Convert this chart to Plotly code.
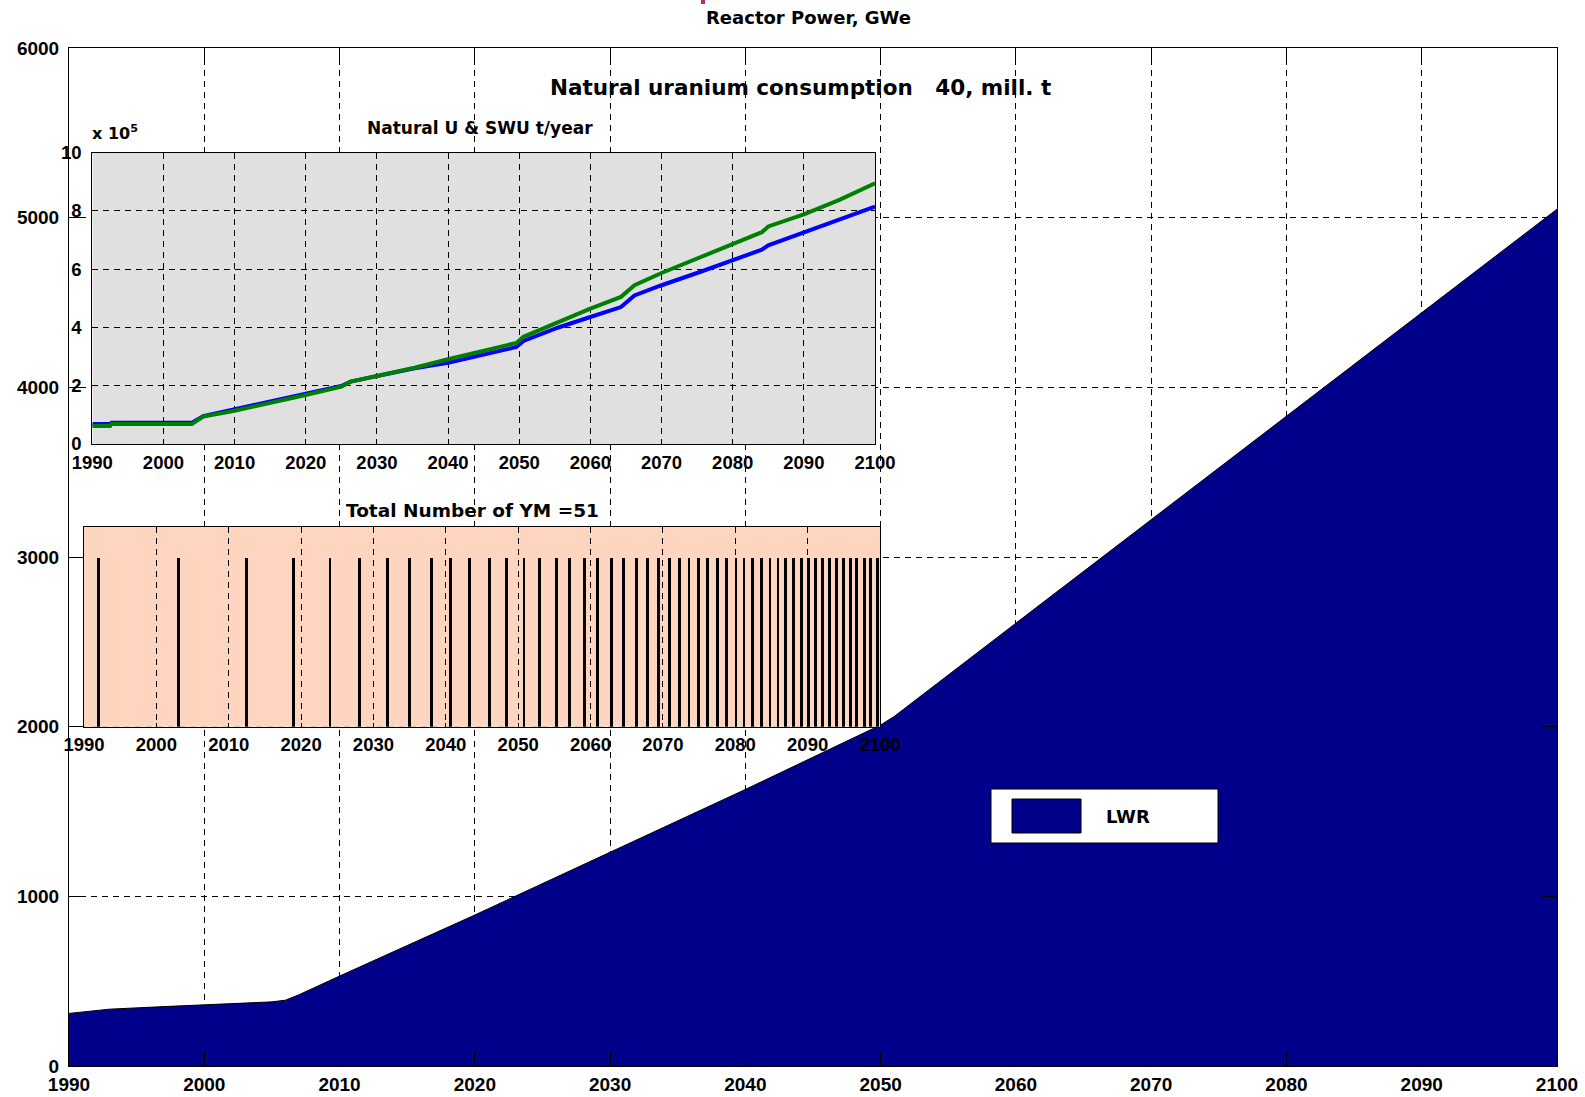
import plotly.graph_objects as go

# ---------------- data ----------------
# Main area: LWR reactor power, GWe
lwr_years = [1990, 1993, 1997, 2000, 2003, 2005, 2006, 2007, 2010, 2020, 2030, 2040,
             2050, 2051, 2060, 2070, 2080, 2090, 2100]
lwr_gwe = [310, 335, 350, 362, 370, 378, 388, 420, 530, 890, 1260, 1630,
           2010, 2060, 2610, 3220, 3830, 4440, 5050]

# Inset 1: Natural U & SWU, t/year
u_years = [1990, 1992.5, 1992.7, 2004, 2005.6, 2010, 2020, 2025, 2026.3, 2030, 2035.3,
           2040, 2045, 2049.6, 2050.6, 2055.5, 2060, 2064.3, 2066.2, 2070, 2075, 2080,
           2084.1, 2085, 2090, 2095, 2100]
nat_u = [69000, 69000, 73000, 73000, 96000, 119000, 174000, 199000, 214000, 233000, 260000,
         279000, 306000, 333000, 354000, 400000, 436000, 470000, 510000, 545000, 587000, 630000,
         667000, 682000, 727000, 773000, 815000]
swu = [62000, 62000, 69000, 69000, 94000, 114000, 168000, 197000, 214000, 233000, 262000,
       291000, 320000, 347000, 368000, 419000, 465000, 505000, 545000, 587000, 636000, 684000,
       727000, 747000, 788000, 838000, 895000]

# Inset 2: years of YM (total 51)
ym_years = [1992.0, 2003.0, 2012.5, 2019.0, 2024.0, 2028.1, 2032.0, 2035.0, 2038.0, 2040.6,
            2043.3, 2046.0, 2048.4, 2050.8, 2053.0, 2055.3, 2057.1, 2059.2, 2060.9, 2062.9,
            2064.6, 2066.3, 2067.9, 2069.4, 2070.9, 2072.3, 2073.6, 2074.9, 2076.2, 2077.6,
            2078.8, 2080.1, 2081.2, 2082.4, 2083.6, 2084.8, 2085.9, 2087.0, 2088.0, 2089.1,
            2090.1, 2091.1, 2092.1, 2093.0, 2094.0, 2094.9, 2095.9, 2096.8, 2097.8, 2098.7,
            2099.6]
ym_count = [1, 1, 1, 1, 1, 1, 1, 1, 1, 1, 1, 1, 1, 1, 1, 1, 1, 1, 1, 1, 1, 1, 1, 1, 1, 1,
            1, 1, 1, 1, 1, 1, 1, 1, 1, 1, 1, 1, 1, 1, 1, 1, 1, 1, 1, 1, 1, 1, 1, 1, 1]

year_ticks = [1990, 2000, 2010, 2020, 2030, 2040, 2050, 2060, 2070, 2080, 2090, 2100]
power_ticks = [0, 1000, 2000, 3000, 4000, 5000, 6000]
u_ticks = [0, 200000, 400000, 600000, 800000, 1000000]
u_tick_text = ["0", "2", "4", "6", "8", "10"]

# ---------------- layout helpers ----------------
W, H = 1585, 1097
L, R, T, B = 69, 28, 48, 31
PW, PH = W - L - R, H - T - B


def px(x):
    return (x - L) / PW


def py(y):
    return (H - B - y) / PH


MAIN_TICK_FONT = dict(family="Liberation Sans, Arial, sans-serif", size=19, color="black", weight="bold")
TICK_FONT = dict(family="Liberation Sans, Arial, sans-serif", size=18.5, color="black", weight="bold")
TITLE_FONT = "DejaVu Sans, Verdana, sans-serif"
GRID = dict(showgrid=True, gridcolor="black", gridwidth=1, griddash="6px,5px")

fig = go.Figure()

fig.add_trace(go.Scatter(x=lwr_years, y=lwr_gwe, mode="lines", fill="tozeroy",
                         fillcolor="#00008B", line=dict(color="black", width=1),
                         name="LWR", xaxis="x", yaxis="y", hoverinfo="skip"))

fig.add_trace(go.Scatter(x=u_years, y=nat_u, mode="lines", line=dict(color="#0000FF", width=4),
                         name="Natural U", xaxis="x2", yaxis="y2"))
fig.add_trace(go.Scatter(x=u_years, y=swu, mode="lines", line=dict(color="#008000", width=4),
                         name="SWU", xaxis="x2", yaxis="y2"))

fig.add_trace(go.Bar(x=ym_years, y=ym_count, width=0.4, marker=dict(color="black", line=dict(width=0)),
                     name="YM", xaxis="x3", yaxis="y3"))

axis_common = dict(showline=True, linecolor="black", linewidth=1, mirror="ticks",
                   ticks="inside", tickcolor="black", zeroline=False, automargin=False)

fig.update_layout(
    width=W, height=H, margin=dict(l=L, r=R, t=T, b=B, autoexpand=False),
    paper_bgcolor="white", plot_bgcolor="white", showlegend=False,
    bargap=0,
    xaxis=dict(domain=[0, 1], range=[1990, 2100], tickvals=year_ticks, ticklen=15,
               tickfont=MAIN_TICK_FONT, ticklabelstandoff=1, anchor="y", **GRID, **axis_common),
    yaxis=dict(domain=[0, 1], range=[0, 6000], tickvals=power_ticks, ticklen=15,
               tickfont=MAIN_TICK_FONT, ticklabelstandoff=5, anchor="x", **GRID, **axis_common),
    xaxis2=dict(domain=[px(92.3), px(875)], range=[1990, 2100], tickvals=year_ticks, ticklen=4,
                tickfont=TICK_FONT, ticklabelstandoff=2, anchor="y2", **GRID, **axis_common),
    yaxis2=dict(domain=[py(444), py(152.7)], range=[0, 1000000], tickvals=u_ticks,
                ticktext=u_tick_text, ticklen=4, tickfont=TICK_FONT, ticklabelstandoff=6,
                anchor="x2", **GRID, **axis_common),
    xaxis3=dict(domain=[px(84), px(880)], range=[1990, 2100], tickvals=year_ticks, ticklen=4,
                tickfont=TICK_FONT, ticklabelstandoff=1, anchor="y3", **GRID, **axis_common),
    yaxis3=dict(domain=[py(726.7), py(526.7)], range=[0, 1.183], showticklabels=False,
                showgrid=False, ticks="", showline=True, linecolor="black", mirror=True,
                zeroline=False, anchor="x3", automargin=False),
)

# inset backgrounds (drawn within each inset subplot, below its grid)
fig.add_shape(type="rect", xref="x2", yref="y2", x0=1990, x1=2100, y0=0, y1=1000000,
              fillcolor="#E0E0E0", line=dict(width=0), layer="below")
fig.add_shape(type="rect", xref="x3", yref="y3", x0=1990, x1=2100, y0=0, y1=1.183,
              fillcolor="#FFD5C0", line=dict(width=0), layer="below")

# legend box
fig.add_shape(type="rect", xref="paper", yref="paper", x0=px(991), x1=px(1218), y0=py(843), y1=py(789),
              fillcolor="white", line=dict(color="black", width=1), layer="above")
fig.add_shape(type="rect", xref="paper", yref="paper", x0=px(1012), x1=px(1081), y0=py(833), y1=py(799),
              fillcolor="#00008B", line=dict(color="black", width=1), layer="above")

# clipped fragment of an upper (cut-off) magenta title
fig.add_shape(type="rect", xref="paper", yref="paper", x0=px(701), x1=px(705), y0=py(4), y1=py(0),
              fillcolor="#B03080", line=dict(width=0), layer="above")


def note(text, x, y, size, xanchor="center", weight="bold", family=TITLE_FONT):
    fig.add_annotation(text=text, x=px(x), y=py(y), xref="paper", yref="paper",
                       xanchor=xanchor, yanchor="middle", showarrow=False,
                       font=dict(family=family, size=size, color="black", weight=weight))


note("LWR", 1104, 816, 18, xanchor="left")
note("Reactor Power, GWe", 808, 18, 18)
note("Natural uranium consumption\u00a0\u00a0\u00a040, mill. t", 548, 88, 21.5, xanchor="left")
note("Natural U & SWU t/year", 480, 128, 17)
note("x 10<sup>5</sup>", 90, 132, 16, xanchor="left")
note("Total Number of YM =51", 472, 510, 18.5)

# the page body has an 8px default margin; remove it so the figure fills the window exactly
fig.write_html("out.html", config={"displayModeBar": False},
               post_script="document.body.style.margin='0px';")
